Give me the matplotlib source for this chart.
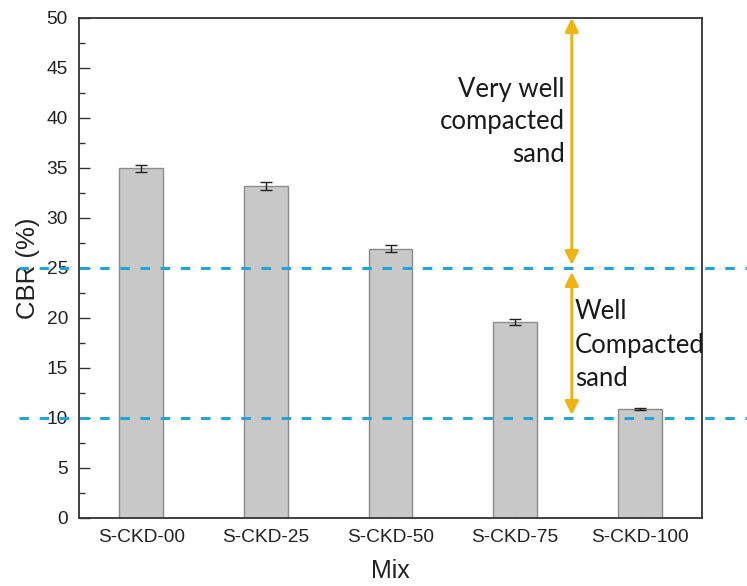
import matplotlib
matplotlib.use("Agg")
import matplotlib.pyplot as plt
from matplotlib.ticker import MultipleLocator

plt.rcParams["font.family"] = ["Liberation Sans", "DejaVu Sans"]

# CBR test results per mix
mixes = ["S-CKD-00", "S-CKD-25", "S-CKD-50", "S-CKD-75", "S-CKD-100"]
cbr = [35.0, 33.2, 26.95, 19.6, 10.9]
cbr_err = [0.35, 0.35, 0.35, 0.28, 0.06]

# compaction class boundaries (CBR %)
thresholds = [10, 25]
upper_zone = [25.3, 50.0]
lower_zone = [24.6, 10.3]
zone_labels = ["Very well\ncompacted\nsand", "Well\nCompacted\nsand"]

W, H = 747, 586
fig = plt.figure(figsize=(W / 100, H / 100), dpi=100)
ax = fig.add_axes([79 / W, 1 - 518 / H, 623 / W, 500 / H])

xpos = list(range(len(mixes)))
ax.bar(xpos, cbr, width=0.35, color="#c8c8c8", edgecolor="#8c8c8c",
       linewidth=1.0, yerr=cbr_err, capsize=4.5, zorder=2,
       error_kw=dict(ecolor="#222222", elinewidth=1.0, capthick=1.0))

ax.set_xlim(-0.5, 4.5)
ax.set_ylim(0, 50)
ax.set_xticks(xpos)
ax.set_xticklabels(mixes)
ax.yaxis.set_major_locator(MultipleLocator(5))
ax.yaxis.set_minor_locator(MultipleLocator(2.5))

for s in ax.spines.values():
    s.set_color("#333333")
    s.set_linewidth(1.3)

ax.tick_params(axis="both", which="major", direction="in", length=8,
               width=1.0, color="#333333", labelsize=13.8,
               labelcolor="#222222")
ax.tick_params(axis="y", which="minor", direction="in", length=4,
               width=1.0, color="#333333")
ax.tick_params(axis="y", pad=8)
ax.tick_params(axis="x", pad=8)

ax.set_xlabel("Mix", fontsize=18, color="#222222", labelpad=9)
ax.set_ylabel("CBR (%)", fontsize=18.5, color="#222222", labelpad=5)

# boundary lines running past both sides of the frame
ytrans = ax.get_yaxis_transform()
for t in thresholds:
    ax.plot([-0.097, 1.08], [t, t], transform=ytrans, clip_on=False,
            color="#22a4d8", lw=2.2, ls=(0, (3.1, 3.5)), zorder=6)

# double-headed range arrows for each class
arrow_x = 3.455
arrow_color = "#f0b412"
for y0, y1 in (upper_zone, lower_zone):
    ax.annotate("", xy=(arrow_x, y1), xytext=(arrow_x, y0),
                arrowprops=dict(arrowstyle="<|-|>", color=arrow_color,
                                lw=2.2, mutation_scale=20,
                                shrinkA=0, shrinkB=0),
                annotation_clip=False, zorder=5)

ax.text(3.40, 39.6, zone_labels[0], ha="right", va="center",
        family="Lato", fontsize=18.5, color="#1a1a1a", linespacing=1.4,
        multialignment="right")
ax.text(3.48, 17.3, zone_labels[1], ha="left", va="center",
        family="Lato", fontsize=18.5, color="#1a1a1a", linespacing=1.42,
        multialignment="left")

fig.savefig("out.png", dpi=100)
